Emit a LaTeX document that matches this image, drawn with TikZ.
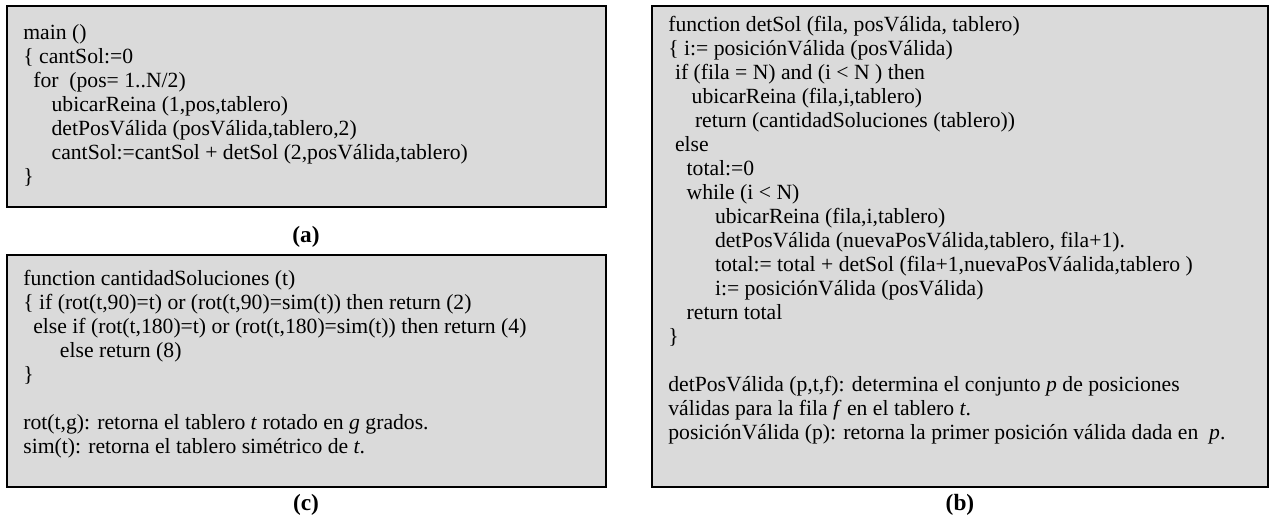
\documentclass[tikz,border=0pt]{standalone}
\usepackage{fontspec}
\setmainfont{Liberation Serif}
\usepackage{xcolor}
\usetikzlibrary{positioning}

\definecolor{boxgray}{RGB}{218,218,218}
\newcommand{\ind}[1]{\hspace*{#1pt}}

\tikzset{
  codebox/.style={draw=black, line width=1.3pt, fill=boxgray},
  code/.style={anchor=north west, align=left, inner sep=0pt, font=\fontsize{13}{14.4}\selectfont},
  caption/.style={font=\fontsize{14}{16}\bfseries\selectfont}
}

\begin{document}
\begin{tikzpicture}[x=0.6pt,y=-0.6pt]
      \useasboundingbox (0,0) rectangle (1272,517);
      % (a) main
      \draw[codebox] (7,6) rectangle (606,207);
      \node[code] (codeA) at (23,24) {main ()\\
        \{ cantSol:=0\\
        \ind{6}for~ (pos= 1..N/2)\\
        \ind{17}ubicarReina (1,pos,tablero)\\
        \ind{17}detPosVálida (posVálida,tablero,2)\\
        \ind{17}cantSol:=cantSol + detSol (2,posVálida,tablero)\\
        \}};
      \node[caption] (capA) at (306,237) {(a)};
      % (c) cantidadSoluciones
      \draw[codebox] (7,255) rectangle (606,487);
      \node[code] (codeC) at (23,270) {function cantidadSoluciones (t)\\
        \{ if (rot(t,90)=t) or (rot(t,90)=sim(t)) then return (2)\\
        \ind{6}else if (rot(t,180)=t) or (rot(t,180)=sim(t)) then return (4)\\
        \ind{22}else return (8)\\
        \}\\
        \mbox{}\\
        rot(t,g): retorna el tablero \textit{t} rotado en \textit{g} grados.\\
        sim(t): retorna el tablero simétrico de \textit{t}.};
      \node[caption] (capC) at (306,505) {(c)};
      % (b) detSol
      \draw[codebox] (652,6) rectangle (1268,487);
      \node[code] (codeB) at (668,16) {function detSol (fila, posVálida, tablero)\\
        \{ i:= posiciónVálida (posVálida)\\
        \ind{4}if (fila = N) and (i < N ) then\\
        \ind{14}ubicarReina (fila,i,tablero)\\
        \ind{16}return (cantidadSoluciones (tablero))\\
        \ind{4}else\\
        \ind{11}total:=0\\
        \ind{11}while (i < N)\\
        \ind{28}ubicarReina (fila,i,tablero)\\
        \ind{28}detPosVálida (nuevaPosVálida,tablero, fila+1).\\
        \ind{28}total:= total + detSol (fila+1,nuevaPosVáalida,tablero )\\
        \ind{28}i:= posiciónVálida (posVálida)\\
        \ind{11}return total\\
        \}\\
        \mbox{}\\
        detPosVálida (p,t,f): determina el conjunto \textit{p} de posiciones\\
        válidas para la fila \textit{f} en el tablero \textit{t}.\\
        posiciónVálida (p): retorna la primer posición válida dada en~ \textit{p}.};
      \node[caption] (capB) at (960,505) {(b)};
\end{tikzpicture}
\end{document}
